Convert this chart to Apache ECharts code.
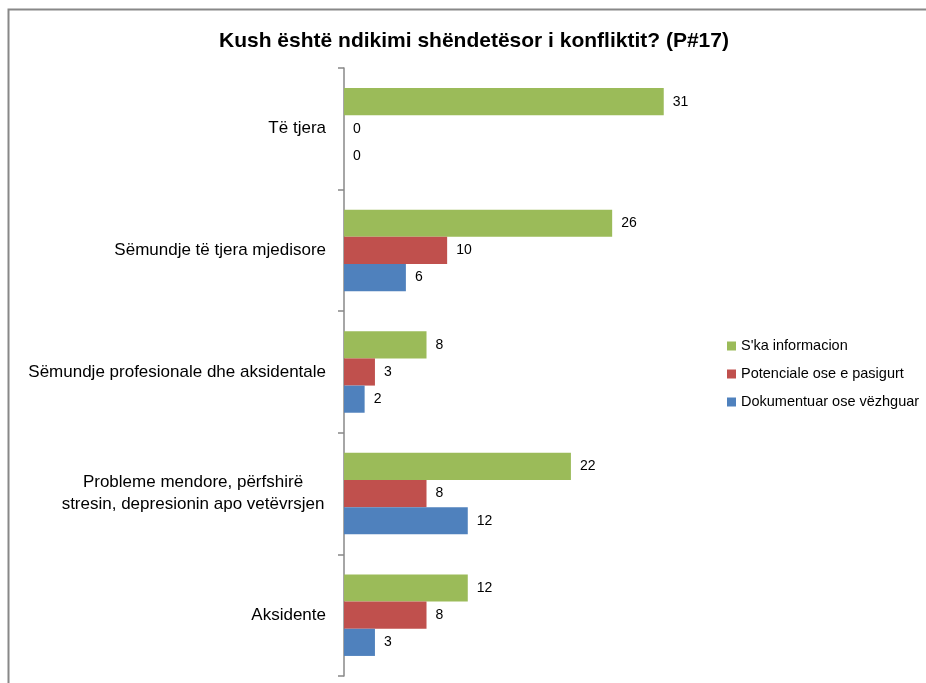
<!DOCTYPE html>
<html><head><meta charset="utf-8">
<script src="https://cdn.jsdelivr.net/npm/echarts@6/dist/echarts.min.js"></script>
<style>html,body{margin:0;padding:0;background:#fff}#c{width:926px;height:683px}</style>
</head><body><div id="c"></div>
<script>
const title = 'Kush është ndikimi shëndetësor i konfliktit? (P#17)';
const categories = ['Të tjera', 'Sëmundje të tjera mjedisore', 'Sëmundje profesionale dhe aksidentale', 'Probleme mendore, përfshirë\nstresin, depresionin apo vetëvrsjen', 'Aksidente'];
const seriesNames = ["S'ka informacion", 'Potenciale ose e pasigurt', 'Dokumentuar ose vëzhguar'];
const noInfo = [31, 26, 8, 22, 12];
const potential = [0, 10, 3, 8, 8];
const documented = [0, 6, 2, 12, 3];
const colors = ['#9BBB59', '#C0504D', '#4F81BD'];
const FONT = '"Liberation Sans", Arial, sans-serif';

const chart = echarts.init(document.getElementById('c'), null, {renderer: 'canvas'});
const mk = (name, data, color) => ({
  name, type: 'bar', data, barGap: '0%', barCategoryGap: '33%',
  itemStyle: {color},
  label: {show: true, position: 'right', distance: 9, color: '#000', fontSize: 14, fontFamily: FONT}
});
chart.setOption({
  animation: false,
  title: {text: title, left: 469, textAlign: 'center', top: 26,
    textStyle: {fontFamily: FONT, fontWeight: 'bold', fontSize: 21, color: '#000'}},
  graphic: [{type: 'rect', shape: {x: 8.5, y: 9.5, width: 1000, height: 1000},
    style: {fill: 'none', stroke: '#888', lineWidth: 2}, silent: true, z: -1}],
  legend: {orient: 'vertical', left: 722, top: 333, itemWidth: 9, itemHeight: 9, itemGap: 12,
    icon: 'rect', data: seriesNames,
    textStyle: {fontFamily: FONT, fontSize: 14.5, color: '#000', lineHeight: 16}},
  grid: {left: 344, top: 68, right: 221, bottom: 7, containLabel: false},
  xAxis: {type: 'value', min: 0, max: 35, show: false},
  yAxis: {type: 'category', data: categories, inverse: true,
    axisLine: {show: true, lineStyle: {color: '#888', width: 1.5}},
    axisTick: {show: true, inside: false, length: 6, lineStyle: {color: '#888', width: 1.5}},
    splitLine: {show: false},
    axisLabel: {margin: 18, fontFamily: FONT, fontSize: 17, color: '#000', lineHeight: 22,
      formatter: v => v.indexOf('\n') >= 0 ? v.split('\n').map(s => '{c|' + s + '}').join('\n') : v,
      rich: {c: {width: 266, align: 'center', fontFamily: FONT, fontSize: 17, color: '#000', lineHeight: 22}}}},
  series: [mk(seriesNames[0], noInfo, colors[0]), mk(seriesNames[1], potential, colors[1]), mk(seriesNames[2], documented, colors[2])]
});
</script></body></html>
